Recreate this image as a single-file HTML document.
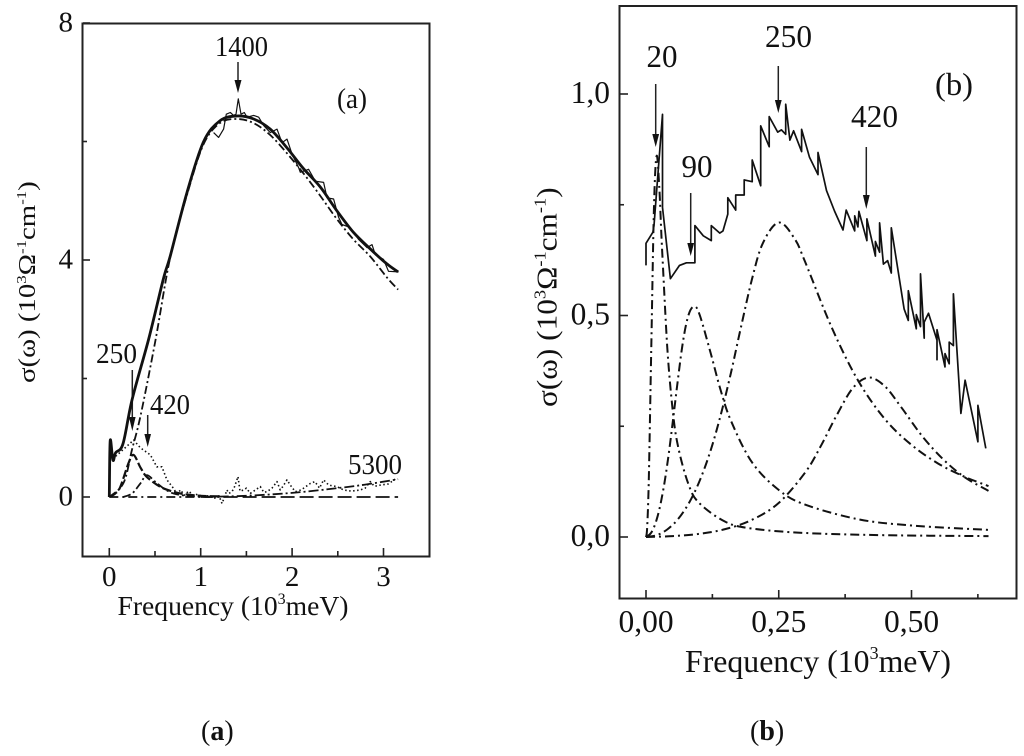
<!DOCTYPE html>
<html lang="en">
<head>
<meta charset="utf-8">
<title>Optical conductivity spectra</title>
<style>
html,body{margin:0;padding:0;background:#fff;}
svg{display:block;}
text{font-family:"Liberation Serif","DejaVu Serif",serif;fill:#111;}
.a{font-size:29px;}
.b{font-size:32px;}
.frame{fill:none;stroke:#222;stroke-width:2;}
.arrow{stroke:#222;stroke-width:1.5;fill:none;}
.head{fill:#111;stroke:none;}
</style>
</head>
<body>
<svg id="figure" width="1024" height="756" viewBox="0 0 1024 756" xmlns="http://www.w3.org/2000/svg">
  <rect width="1024" height="756" fill="#fff"/>

  <g id="panelA">
    <rect class="frame" x="82.5" y="23.5" width="347" height="533"/>
    <text font-size="27.6" x="233" y="615" text-anchor="middle">Frequency (10<tspan dy="-11" font-size="16">3</tspan><tspan dy="11">meV)</tspan></text>
    <text font-size="24" transform="translate(35,383) rotate(-90) scale(1.2,1)">σ(ω) (10<tspan dy="-9" font-size="14">3</tspan><tspan dy="9">Ω</tspan><tspan dy="-9" font-size="14">-1</tspan><tspan dy="9">cm</tspan><tspan dy="-9" font-size="14">-1</tspan><tspan dy="9">)</tspan></text>
    <text class="a" x="337" y="108" textLength="30" lengthAdjust="spacingAndGlyphs">(a)</text>
    <text class="a" x="215" y="56" textLength="53" lengthAdjust="spacingAndGlyphs">1400</text>
    <text class="a" x="96" y="363" textLength="41" lengthAdjust="spacingAndGlyphs">250</text>
    <text class="a" x="150" y="414" textLength="40" lengthAdjust="spacingAndGlyphs">420</text>
    <text class="a" x="348" y="474" textLength="54" lengthAdjust="spacingAndGlyphs">5300</text>
    <g><line class="arrow" x1="238" y1="62" x2="238" y2="82"/><polygon class="head" points="234.5,80 241.5,80 238,93"/></g>
    <g><line class="arrow" x1="132.3" y1="370" x2="132.3" y2="420"/><polygon class="head" points="129,417 135.6,417 132.3,431"/></g>
    <g><line class="arrow" x1="147.7" y1="415" x2="147.7" y2="437"/><polygon class="head" points="144.4,434 151,434 147.7,447"/></g>
  </g>

  <g id="panelB">
    <rect class="frame" x="619.5" y="6" width="397" height="592.5"/>
    <text font-size="31.8" x="818" y="672" text-anchor="middle">Frequency (10<tspan dy="-13" font-size="18">3</tspan><tspan dy="13">meV)</tspan></text>
    <text font-size="29" transform="translate(556.5,407) rotate(-90) scale(1.08,1)">σ(ω) (10<tspan dy="-11" font-size="17">3</tspan><tspan dy="11">Ω</tspan><tspan dy="-11" font-size="17">-1</tspan><tspan dy="11">cm</tspan><tspan dy="-11" font-size="17">-1</tspan><tspan dy="11">)</tspan></text>
    <text class="b" x="935" y="95" textLength="38" lengthAdjust="spacingAndGlyphs">(b)</text>
    <text class="b" x="646.5" y="67" textLength="31" lengthAdjust="spacingAndGlyphs">20</text>
    <text class="b" x="681.5" y="177" textLength="31" lengthAdjust="spacingAndGlyphs">90</text>
    <text class="b" x="765" y="47" textLength="47" lengthAdjust="spacingAndGlyphs">250</text>
    <text class="b" x="851" y="127" textLength="47" lengthAdjust="spacingAndGlyphs">420</text>
    <g><line class="arrow" x1="655.7" y1="84" x2="655.7" y2="136"/><polygon class="head" points="652.3,134 659.1,134 655.7,147"/></g>
    <g><line class="arrow" x1="690.7" y1="193" x2="690.7" y2="245"/><polygon class="head" points="687.3,243 694.1,243 690.7,256"/></g>
    <g><line class="arrow" x1="778.3" y1="66" x2="778.3" y2="102"/><polygon class="head" points="774.9,100 781.7,100 778.3,113"/></g>
    <g><line class="arrow" x1="866.3" y1="147" x2="866.3" y2="198"/><polygon class="head" points="862.9,195 869.7,195 866.3,209"/></g>
  </g>

  <text x="201" y="740" font-size="28">(<tspan font-weight="bold">a</tspan>)</text>
  <text x="750" y="740" font-size="28">(<tspan font-weight="bold">b</tspan>)</text>
</svg>

<script>
// ---------- Panel (a) axis ticks ----------
const aXMajorTicks = [0, 1, 2, 3];
const aXMajorLabels = ["0", "1", "2", "3"];
const aXMinorTicks = [0.5, 1.5, 2.5];
const aYMajorTicks = [8, 4, 0];
const aYMajorLabels = ["8", "4", "0"];
const aYMinorTicks = [6, 2];

// ---------- Panel (a) series ----------
const aTotalFreq = [0, 0.01, 0.04, 0.07, 0.15, 0.25, 0.43, 0.59, 0.667, 0.85, 1.03, 1.21, 1.397, 1.58, 1.76, 1.94, 2.12, 2.31, 2.49, 2.67, 2.86, 3.04, 3.16];
const aTotalSigma = [0, 0.95, 0.62, 0.75, 0.9, 1.65, 2.66, 3.67, 4.07, 5.14, 5.99, 6.35, 6.43, 6.38, 6.21, 5.9, 5.55, 5.23, 4.83, 4.47, 4.18, 3.93, 3.8];

const aMainFreq = [0, 0.157, 0.248, 0.34, 0.503, 0.667, 0.85, 1.03, 1.21, 1.4, 1.58, 1.76, 1.95, 2.13, 2.31, 2.49, 2.67, 2.86, 3.04, 3.16];
const aMainSigma = [0, 0.24, 0.8, 1.36, 2.63, 4.05, 5.1, 5.95, 6.31, 6.38, 6.31, 6.11, 5.79, 5.45, 5.08, 4.69, 4.35, 4.05, 3.7, 3.5];

const aNoisyFreq = [1.141, 1.196, 1.25, 1.28, 1.324, 1.36, 1.386, 1.411, 1.441, 1.477, 1.507, 1.579, 1.635, 1.688, 1.762, 1.835, 1.89, 1.944, 1.999, 2.071, 2.09, 2.181, 2.254, 2.345, 2.382, 2.454, 2.509, 2.546, 2.636, 2.727, 2.819, 2.874, 2.91, 3.0, 3.055, 3.165];
const aNoisySigma = [6.15, 6.07, 6.21, 6.46, 6.49, 6.44, 6.46, 6.72, 6.46, 6.49, 6.41, 6.44, 6.41, 6.27, 6.15, 6.21, 5.98, 6.04, 5.79, 5.56, 5.48, 5.53, 5.33, 5.31, 5.05, 5.03, 4.72, 4.6, 4.55, 4.35, 4.21, 4.26, 4.09, 4.01, 3.81, 3.8];

const aDottedFreq = [0.03, 0.08, 0.266, 0.34, 0.45, 0.52, 0.576, 0.63, 0.7, 0.74, 0.78, 0.82, 0.87, 0.92, 0.97, 1.02, 1.08, 1.15, 1.2, 1.233, 1.26, 1.287, 1.31, 1.342, 1.37, 1.408, 1.43, 1.47, 1.5, 1.543, 1.6, 1.652, 1.69, 1.725, 1.78, 1.835, 1.87, 1.9, 1.944, 1.98, 2.035, 2.1, 2.2, 2.25, 2.3, 2.345, 2.4, 2.49, 2.564, 2.65, 2.746, 2.8, 2.856, 2.9, 2.965, 3.05, 3.148];
const aDottedSigma = [0.66, 0.7, 0.96, 0.83, 0.71, 0.51, 0.51, 0.29, 0.15, 0.05, 0.12, 0.03, 0.1, 0.02, 0.05, 0, 0.02, -0.02, 0.02, -0.11, 0, 0.118, 0.06, 0.09, 0.17, 0.344, 0.1, 0.118, 0.15, 0.06, 0.12, 0.175, 0.08, 0.09, 0.15, 0.26, 0.12, 0.18, 0.288, 0.2, 0.09, 0.12, 0.23, 0.26, 0.15, 0.288, 0.2, 0.175, 0.118, 0.1, 0.118, 0.15, 0.26, 0.18, 0.2, 0.22, 0.32];

const aPeak250Freq = [0, 0.066, 0.12, 0.21, 0.266, 0.34, 0.41, 0.56, 0.7, 0.81, 1.0, 1.2];
const aPeak250Sigma = [0, 0.06, 0.17, 0.57, 0.71, 0.5, 0.34, 0.17, 0.09, 0.05, 0.02, 0.01];

const aPeak420Freq = [0.15, 0.25, 0.34, 0.41, 0.5, 0.59, 0.7, 0.85, 1.1];
const aPeak420Sigma = [0, 0.06, 0.23, 0.37, 0.26, 0.15, 0.06, 0.02, 0];

const aPeak5300Freq = [1.0, 1.5, 2.0, 2.5, 2.8, 3.16];
const aPeak5300Sigma = [0, 0.02, 0.07, 0.15, 0.21, 0.3];

const aBaseLeftFreq = [0, 1.25];
const aBaseLeftSigma = [0, 0];
const aBaseRightFreq = [1.25, 3.16];
const aBaseRightSigma = [0, 0];

// ---------- Panel (b) axis ticks ----------
const bXMajorTicks = [0, 0.25, 0.5];
const bXMajorLabels = ["0,00", "0,25", "0,50"];
const bXMinorTicks = [0.125, 0.375, 0.625];
const bYMajorTicks = [1, 0.5, 0];
const bYMajorLabels = ["1,0", "0,5", "0,0"];
const bYMinorTicks = [0.75, 0.25];

// ---------- Panel (b) series ----------
const bMeasuredFreq = [0, 0, 0.013, 0.015, 0.031, 0.031, 0.046, 0.063, 0.076, 0.092, 0.092, 0.108, 0.123, 0.123, 0.139, 0.145, 0.154, 0.154, 0.169, 0.169, 0.185, 0.185, 0.2, 0.2, 0.216, 0.216, 0.232, 0.232, 0.248, 0.255, 0.263, 0.263, 0.271, 0.278, 0.293, 0.293, 0.308, 0.324, 0.324, 0.34, 0.355, 0.371, 0.377, 0.393, 0.393, 0.399, 0.401, 0.416, 0.416, 0.432, 0.432, 0.44, 0.44, 0.447, 0.455, 0.462, 0.462, 0.486, 0.494, 0.494, 0.509, 0.509, 0.517, 0.517, 0.524, 0.524, 0.532, 0.548, 0.548, 0.548, 0.563, 0.563, 0.571, 0.571, 0.579, 0.579, 0.593, 0.601, 0.625, 0.625, 0.64];
const bMeasuredSigma = [0.613, 0.663, 0.688, 0.703, 0.954, 0.744, 0.583, 0.613, 0.619, 0.619, 0.703, 0.68, 0.669, 0.703, 0.686, 0.691, 0.729, 0.766, 0.738, 0.772, 0.772, 0.806, 0.802, 0.851, 0.793, 0.928, 0.881, 0.949, 0.914, 0.919, 0.909, 0.977, 0.896, 0.917, 0.87, 0.92, 0.857, 0.818, 0.868, 0.782, 0.736, 0.693, 0.738, 0.691, 0.725, 0.7, 0.735, 0.669, 0.718, 0.634, 0.667, 0.643, 0.709, 0.616, 0.624, 0.596, 0.698, 0.515, 0.489, 0.556, 0.47, 0.502, 0.475, 0.594, 0.449, 0.485, 0.505, 0.444, 0.4, 0.468, 0.384, 0.414, 0.391, 0.44, 0.432, 0.549, 0.279, 0.354, 0.215, 0.297, 0.2];

const bPeak20Freq = [0, 0.002, 0.005, 0.01, 0.015, 0.02, 0.025, 0.03, 0.04, 0.05, 0.06, 0.08, 0.1, 0.15, 0.2, 0.3, 0.45, 0.645];
const bPeak20Sigma = [0, 0.019, 0.119, 0.43, 0.747, 0.86, 0.789, 0.657, 0.43, 0.29, 0.206, 0.119, 0.077, 0.034, 0.019, 0.009, 0.004, 0.002];

const bPeak90Freq = [0, 0.01, 0.02, 0.03, 0.04, 0.05, 0.06, 0.07, 0.08, 0.09, 0.1, 0.12, 0.14, 0.16, 0.2, 0.25, 0.3, 0.4, 0.5, 0.645];
const bPeak90Sigma = [0, 0.01, 0.039, 0.09, 0.163, 0.255, 0.355, 0.444, 0.501, 0.52, 0.505, 0.423, 0.334, 0.262, 0.168, 0.106, 0.073, 0.04, 0.026, 0.016];

const bPeak250Freq = [0, 0.02, 0.04, 0.06, 0.08, 0.1, 0.12, 0.14, 0.16, 0.18, 0.2, 0.22, 0.25, 0.28, 0.3, 0.35, 0.4, 0.45, 0.5, 0.55, 0.6, 0.645];
const bPeak250Sigma = [0, 0.004, 0.017, 0.04, 0.075, 0.124, 0.189, 0.272, 0.371, 0.48, 0.584, 0.663, 0.71, 0.673, 0.62, 0.472, 0.352, 0.266, 0.208, 0.166, 0.136, 0.115];

const bPeak420Freq = [0, 0.05, 0.1, 0.15, 0.2, 0.25, 0.3, 0.33, 0.36, 0.39, 0.42, 0.45, 0.48, 0.52, 0.56, 0.6, 0.645];
const bPeak420Sigma = [0, 0.002, 0.007, 0.018, 0.039, 0.077, 0.146, 0.207, 0.277, 0.337, 0.36, 0.34, 0.294, 0.228, 0.175, 0.135, 0.104];

// ---------- Axis functions ----------
const xA = f => 109.3 + 91.4 * f;
const yA = s => 497 - 59.25 * s;
const xB = f => 646 + 531 * f;
const yB = s => 537 - 443 * s;

const NS = "http://www.w3.org/2000/svg";

function linePath(fs, ss, x, y) {
  return fs.map((f, i) => (i ? "L" : "M") + x(f).toFixed(1) + " " + y(ss[i]).toFixed(1)).join("");
}
function smoothPath(fs, ss, x, y) {
  const p = fs.map((f, i) => [x(f), y(ss[i])]);
  let d = "M" + p[0][0].toFixed(1) + " " + p[0][1].toFixed(1);
  for (let i = 0; i < p.length - 1; i++) {
    const p0 = p[Math.max(i - 1, 0)], p1 = p[i], p2 = p[i + 1], p3 = p[Math.min(i + 2, p.length - 1)];
    const c1x = p1[0] + (p2[0] - p0[0]) / 6, c1y = p1[1] + (p2[1] - p0[1]) / 6;
    const c2x = p2[0] - (p3[0] - p1[0]) / 6, c2y = p2[1] - (p3[1] - p1[1]) / 6;
    d += "C" + c1x.toFixed(1) + " " + c1y.toFixed(1) + " " + c2x.toFixed(1) + " " + c2y.toFixed(1) + " " + p2[0].toFixed(1) + " " + p2[1].toFixed(1);
  }
  return d;
}
function drawSeries(parent, name, d, width, dash) {
  const el = document.createElementNS(NS, "path");
  el.setAttribute("d", d);
  el.setAttribute("fill", "none");
  el.setAttribute("stroke", "#111");
  el.setAttribute("stroke-width", width);
  el.setAttribute("stroke-linejoin", "round");
  if (dash) el.setAttribute("stroke-dasharray", dash);
  
  
  parent.appendChild(el);
}
function drawTick(parent, name, x1, y1, x2, y2) {
  const el = document.createElementNS(NS, "line");
  el.setAttribute("x1", x1);
  el.setAttribute("y1", y1);
  el.setAttribute("x2", x2);
  el.setAttribute("y2", y2);
  el.setAttribute("stroke", "#222");
  el.setAttribute("stroke-width", 1.6);
  
  
  parent.appendChild(el);
}
function drawLabel(parent, name, str, x, y, anchor, size) {
  const el = document.createElementNS(NS, "text");
  el.setAttribute("x", x);
  el.setAttribute("y", y);
  el.setAttribute("text-anchor", anchor);
  el.setAttribute("font-size", size);
  el.textContent = str;
  
  
  parent.appendChild(el);
}

const panelA = document.getElementById("panelA");
const panelB = document.getElementById("panelB");

// Panel (a) ticks
aXMajorTicks.forEach((v, i) => {
  drawTick(panelA, "x-tick-a", xA(v), 556, xA(v), 548);
  drawLabel(panelA, "x-tick-label-a", aXMajorLabels[i], xA(v), 586, "middle", 29);
});
aXMinorTicks.forEach(v => drawTick(panelA, "x-minor-tick-a", xA(v), 556, xA(v), 551));
aYMajorTicks.forEach((v, i) => {
  drawTick(panelA, "y-tick-a", 83, yA(v), 90, yA(v));
  drawLabel(panelA, "y-tick-label-a", aYMajorLabels[i], 73, yA(v) + 8.7, "end", 29);
});
aYMinorTicks.forEach(v => drawTick(panelA, "y-minor-tick-a", 83, yA(v), 87, yA(v)));

// Panel (a) series
drawSeries(panelA, "baseline-dash-dot-a", linePath(aBaseLeftFreq, aBaseLeftSigma, xA, yA), 1.8, "9 4 2 4");
drawSeries(panelA, "baseline-long-dash-a", linePath(aBaseRightFreq, aBaseRightSigma, xA, yA), 1.8, "14 5");
drawSeries(panelA, "dotted-difference-a", linePath(aDottedFreq, aDottedSigma, xA, yA), 1.6, "1.5 2.5");
drawSeries(panelA, "peak-250-component-a", smoothPath(aPeak250Freq, aPeak250Sigma, xA, yA), 2.2, "9 3");
drawSeries(panelA, "peak-420-component-a", smoothPath(aPeak420Freq, aPeak420Sigma, xA, yA), 1.8, "8 3 2 3");
drawSeries(panelA, "peak-5300-component", smoothPath(aPeak5300Freq, aPeak5300Sigma, xA, yA), 1.8, "10 3 2 3");
drawSeries(panelA, "peak-1400-component", smoothPath(aMainFreq, aMainSigma, xA, yA), 1.8, "8 3 2 3");
drawSeries(panelA, "noisy-measured-a", linePath(aNoisyFreq, aNoisySigma, xA, yA), 1.2);
drawSeries(panelA, "total-fit-a", smoothPath(aTotalFreq, aTotalSigma, xA, yA), 2.8);

// Panel (b) ticks
bXMajorTicks.forEach((v, i) => {
  drawTick(panelB, "x-tick-b", xB(v), 598, xB(v), 590);
  drawLabel(panelB, "x-tick-label-b", bXMajorLabels[i], xB(v), 632, "middle", 31.5);
});
bXMinorTicks.forEach(v => drawTick(panelB, "x-minor-tick-b", xB(v), 598, xB(v), 594));
bYMajorTicks.forEach((v, i) => {
  drawTick(panelB, "y-tick-b", 620, yB(v), 628, yB(v));
  drawLabel(panelB, "y-tick-label-b", bYMajorLabels[i], 610, yB(v) + 9, "end", 31.5);
});
bYMinorTicks.forEach(v => drawTick(panelB, "y-minor-tick-b", 620, yB(v), 624, yB(v)));

// Panel (b) series
drawSeries(panelB, "peak-20-component", smoothPath(bPeak20Freq, bPeak20Sigma, xB, yB), 2, "9 4 2 4");
drawSeries(panelB, "peak-90-component", smoothPath(bPeak90Freq, bPeak90Sigma, xB, yB), 2, "9 4 2 4");
drawSeries(panelB, "peak-250-component-b", smoothPath(bPeak250Freq, bPeak250Sigma, xB, yB), 2, "9 4 2 4");
drawSeries(panelB, "peak-420-component-b", smoothPath(bPeak420Freq, bPeak420Sigma, xB, yB), 2, "9 4 2 4");
drawSeries(panelB, "measured-conductivity-b", linePath(bMeasuredFreq, bMeasuredSigma, xB, yB), 1.7);
</script>
</body>
</html>
